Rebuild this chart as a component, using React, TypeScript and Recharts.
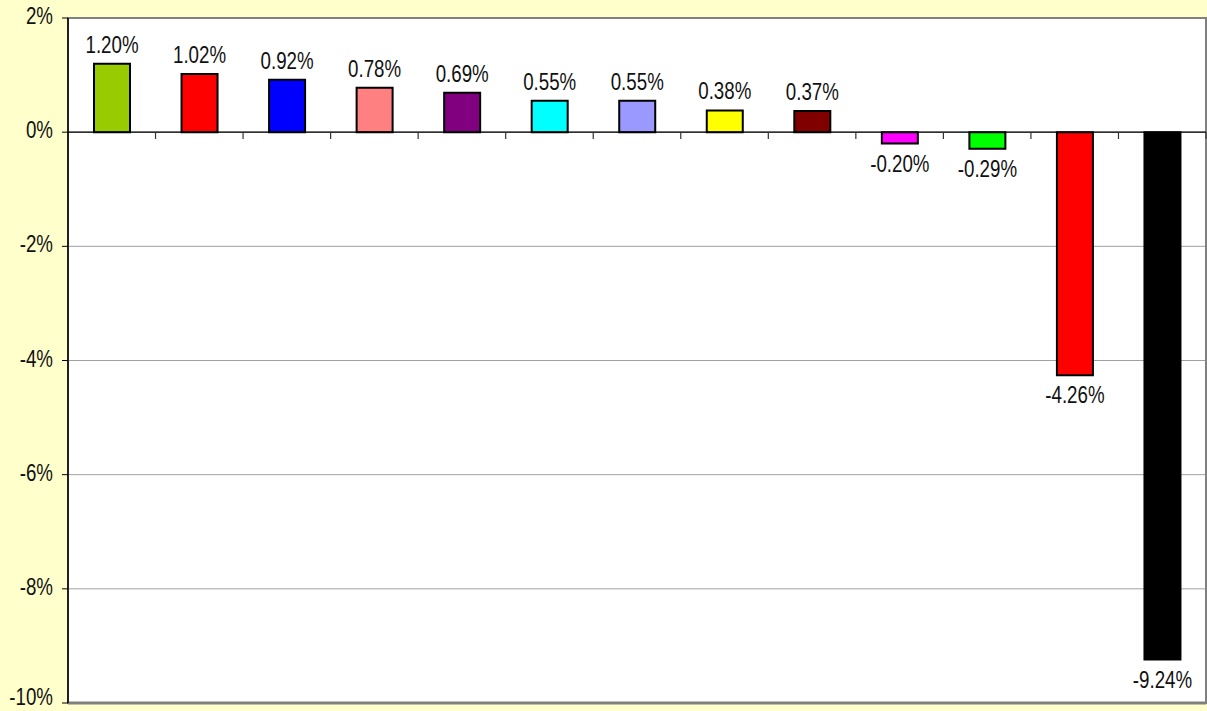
import {BarChart, Bar, Cell, XAxis, YAxis, CartesianGrid, ReferenceLine, ReferenceArea, LabelList} from 'recharts';

const values = [1.2, 1.02, 0.92, 0.78, 0.69, 0.55, 0.55, 0.38, 0.37, -0.2, -0.29, -4.26, -9.24];
const colors = ['#99CC00', '#FF0000', '#0000FF', '#FF8080', '#800080', '#00FFFF', '#9999FF', '#FFFF00', '#800000', '#FF00FF', '#00FF00', '#FF0000', '#000000'];
const yTicks = [-10, -8, -6, -4, -2, 0, 2];

const data = values.map((v, i) => ({pos: i + 0.5, value: v}));
const boundaries = values.map((_v, i) => i + 1);

const FONT = '"Liberation Sans", Arial, sans-serif';
const SQUEEZE = 0.78;

function YTick(props: any) {
  const {x, y, payload} = props;
  // keep the lowest label inside the picture
  const dy = payload.value === yTicks[0] ? 2 : 6;
  return (
    <text
      transform={`translate(${x},${y + dy}) scale(${SQUEEZE},1)`}
      textAnchor="end"
      fontFamily={FONT}
      fontSize={24}
      fill="#111"
    >
      {`${payload.value}%`}
    </text>
  );
}

function BarLabel(props: any) {
  const {x, y, width, height, value} = props;
  const top = Math.min(y, y + height);
  const bottom = Math.max(y, y + height);
  const cx = x + width / 2;
  const ty = value >= 0 ? top - 11 : bottom + 28;
  return (
    <text
      transform={`translate(${cx},${ty}) scale(${SQUEEZE},1)`}
      textAnchor="middle"
      fontFamily={FONT}
      fontSize={24}
      fill="#111"
    >
      {`${Number(value).toFixed(2)}%`}
    </text>
  );
}

export default function App() {
  return (
    <div style={{position: 'absolute', left: 0, top: 0, width: 1207, height: 711, background: '#FFFFCC'}}>
      <BarChart width={1207} height={711} data={data} margin={{top: 18, right: 1, bottom: 8, left: 0}}>
        <CartesianGrid horizontal vertical={false} stroke="#A0A0A0" fill="#FFFFFF" />
        <ReferenceArea y1={-10} y2={2} fill="none" stroke="#808080" strokeWidth={2} />
        <ReferenceLine y={-10} stroke="#808080" strokeWidth={3} />
        <XAxis type="number" dataKey="pos" domain={[0, 13]} hide />
        <YAxis
          type="number"
          domain={[-10, 2]}
          ticks={yTicks}
          width={68}
          axisLine={{stroke: '#000', strokeWidth: 1.5}}
          tickLine={{stroke: '#000'}}
          tickSize={6}
          tickMargin={9}
          tick={<YTick />}
          interval={0}
        />
        <ReferenceLine y={0} stroke="#000" strokeWidth={1.2} />
        {boundaries.map((k) => (
          <ReferenceLine
            key={`tick-${k}`}
            segment={[{x: k, y: 0}, {x: k, y: -0.12}]}
            stroke="#333"
            strokeWidth={1.2}
          />
        ))}
        <Bar dataKey="value" barSize={36} stroke="#000" strokeWidth={2} isAnimationActive={false}>
          {data.map((_d, i) => (
            <Cell key={`cell-${i}`} fill={colors[i]} />
          ))}
          <LabelList dataKey="value" content={<BarLabel />} />
        </Bar>
      </BarChart>
    </div>
  );
}
